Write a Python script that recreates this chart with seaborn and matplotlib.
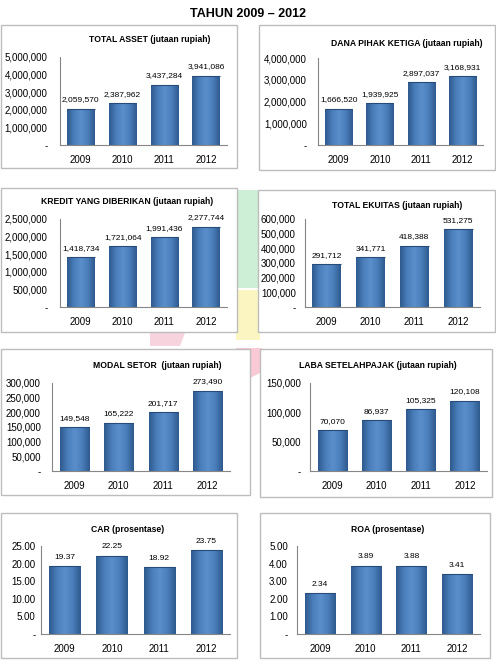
import numpy as np
import pandas as pd
import matplotlib
matplotlib.use("Agg")
import matplotlib.pyplot as plt
import seaborn as sns
from matplotlib.ticker import FuncFormatter, FixedLocator
from matplotlib.colors import LinearSegmentedColormap
from matplotlib.patches import Rectangle, Polygon

sns.set_theme(style="white")
plt.rcParams['font.family'] = ['Liberation Sans', 'DejaVu Sans']

years = ["2009", "2010", "2011", "2012"]

total_asset = [2059570, 2387962, 3437284, 3941086]
dana_pihak_ketiga = [1666520, 1939925, 2897037, 3168931]
kredit_diberikan = [1418734, 1721064, 1991436, 2277744]
total_ekuitas = [291712, 341771, 418388, 531275]
modal_setor = [149548, 165222, 201717, 273490]
laba_setelah_pajak = [70070, 86937, 105325, 120108]
car = [19.37, 22.25, 18.92, 23.75]
roa = [2.34, 3.89, 3.88, 3.41]

titles = ["TOTAL ASSET (jutaan rupiah)", "DANA PIHAK KETIGA (jutaan rupiah)",
          "KREDIT YANG DIBERIKAN (jutaan rupiah)", "TOTAL EKUITAS (jutaan rupiah)",
          "MODAL SETOR  (jutaan rupiah)", "LABA SETELAHPAJAK (jutaan rupiah)",
          "CAR (prosentase)", "ROA (prosentase)"]
y_ticks = [
    [0, 1000000, 2000000, 3000000, 4000000, 5000000],
    [0, 1000000, 2000000, 3000000, 4000000],
    [0, 500000, 1000000, 1500000, 2000000, 2500000],
    [0, 100000, 200000, 300000, 400000, 500000, 600000],
    [0, 50000, 100000, 150000, 200000, 250000, 300000],
    [0, 50000, 100000, 150000],
    [0, 5, 10, 15, 20, 25],
    [0, 1, 2, 3, 4, 5],
]
series = [total_asset, dana_pihak_ketiga, kredit_diberikan, total_ekuitas,
          modal_setor, laba_setelah_pajak, car, roa]
pct = [False] * 6 + [True] * 2

W, H = 496, 665
fig = plt.figure(figsize=(W / 100, H / 100), dpi=100)
fig.patch.set_facecolor("white")

def fx(x):
    return x / W

def fy(y):
    return 1 - y / H

# faint background logo
logo = [
    (Rectangle((fx(236), fy(288)), fx(24), 98 / H), "#CDEFD6"),
    (Rectangle((fx(236), fy(340)), fx(24), 50 / H), "#FBF5C2"),
    (Polygon([(fx(150), fy(333)), (fx(185), fy(333)), (fx(180), fy(346)), (fx(150), fy(346))]), "#F7D3DE"),
    (Polygon([(fx(236), fy(348)), (fx(262), fy(348)), (fx(262), fy(372)), (fx(236), fy(385))]), "#F9C9D6"),
]
for p, c in logo:
    p.set_facecolor(c)
    p.set_edgecolor("none")
    p.set_transform(fig.transFigure)
    fig.patches.append(p)

# panel boxes (x0, y0, x1, y1)
boxes = [(1, 25, 237, 168), (259, 25, 495, 170), (1, 188, 237, 332), (258, 190, 495, 332),
         (1, 349, 250, 495), (260, 349, 492, 497), (1, 513, 237, 658), (260, 513, 490, 658)]
# axes (left, top, right, bottom)
axes_px = [(60, 57, 227, 145), (318, 58, 483, 145), (60, 219, 227, 307), (305, 219, 480, 307),
           (52, 383, 230, 471), (310, 383, 487, 471), (41, 546, 230, 634), (297, 546, 480, 634)]
title_pos = [(150, 40), (407, 43), (127, 201), (397, 205), (157, 365), (378, 366), (128, 529), (388, 529)]
y_pads = [6.0, 5.0, 6.0, 3.6, 5.0, 3.6, 0.8, 3.6]

for (x0, y0, x1, y1) in boxes:
    r = Rectangle((fx(x0), fy(y1)), fx(x1 - x0), (y1 - y0) / H, transform=fig.transFigure,
                  facecolor="white", edgecolor="#BDBDBD", lw=1.0, zorder=1)
    fig.patches.append(r)

cmap = LinearSegmentedColormap.from_list("bar", ["#2E5A8E", "#4A7EBB", "#5B8FCC", "#4A7EBB", "#2E5A8E"])
grad = np.linspace(0, 1, 64).reshape(1, -1)

for i in range(8):
    l, t, r, b = axes_px[i]
    ax = fig.add_axes([fx(l), fy(b), fx(r - l), (b - t) / H], zorder=2)
    ax.patch.set_alpha(0)
    df = pd.DataFrame({"year": years, "value": series[i]})
    sns.barplot(data=df, x="year", y="value", color="#4A7EBB", width=0.66, ax=ax,
                saturation=1, edgecolor="none")
    for p in ax.patches:
        bx, by = p.get_x(), p.get_y()
        bw, bh = p.get_width(), p.get_height()
        im = ax.imshow(grad, cmap=cmap, aspect="auto", extent=[bx, bx + bw, by, by + bh],
                       zorder=p.get_zorder() + 0.1, interpolation="bilinear")
        im.set_clip_path(p)
        ax.plot([bx, bx + bw], [by + bh, by + bh], color="#274B78", lw=0.8,
                zorder=p.get_zorder() + 0.2, solid_capstyle="butt")
    ax.set_xlim(-0.5, 3.5)
    ax.set_ylim(0, y_ticks[i][-1])
    ax.set_xlabel("")
    ax.set_ylabel("")
    ax.yaxis.set_major_locator(FixedLocator(y_ticks[i]))
    if pct[i]:
        ax.yaxis.set_major_formatter(FuncFormatter(lambda v, _: "-" if v == 0 else f"{v:.2f}"))
    else:
        ax.yaxis.set_major_formatter(FuncFormatter(lambda v, _: "-" if v == 0 else f"{v:,.0f}"))
    ax.xaxis.set_minor_locator(FixedLocator([-0.5, 0.5, 1.5, 2.5, 3.5]))
    ax.tick_params(axis="x", which="major", length=0, labelsize=7, pad=7, colors="#000000")
    ax.tick_params(axis="x", which="minor", length=3, width=0.8, color="#868686", direction="out")
    ax.tick_params(axis="y", which="major", length=3, width=0.8, color="#868686",
                   direction="out", labelsize=7.0, pad=y_pads[i], labelcolor="#000000")
    for s in ["top", "right"]:
        ax.spines[s].set_visible(False)
    for s in ["left", "bottom"]:
        ax.spines[s].set_color("#868686")
        ax.spines[s].set_linewidth(0.8)
    ymax = y_ticks[i][-1]
    for k, v in enumerate(series[i]):
        lab = f"{v:.2f}" if pct[i] else f"{v:,.0f}"
        ax.text(k, v + ymax * 0.06, lab, ha="center", va="bottom", fontsize=6.0, color="#000000")
    tx, ty = title_pos[i]
    fig.text(fx(tx), fy(ty), titles[i], ha="center", va="center", fontsize=6.2,
             fontweight="bold", color="#000000", zorder=3)

fig.text(fx(248), fy(14), "TAHUN 2009 \u2013 2012", ha="center", va="center", fontsize=9,
         fontweight="bold", color="#000000")

fig.savefig("out.png", dpi=100)
